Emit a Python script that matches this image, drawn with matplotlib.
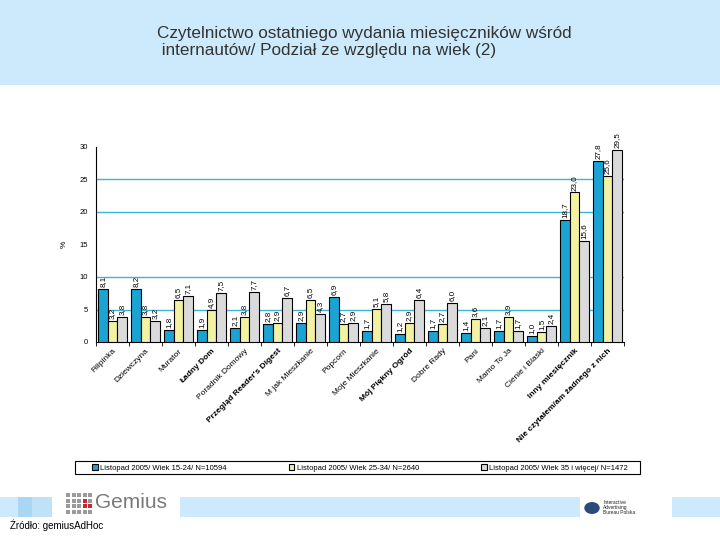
# Czytelnictwo miesiecznikow - podzial ze wzgledu na wiek (2)
import matplotlib
matplotlib.use("Agg")
import matplotlib.pyplot as plt
from matplotlib.patches import Rectangle, Circle
import numpy as np

plt.rcParams["font.family"] = ["Liberation Sans", "DejaVu Sans"]

# Data
categories = ["Filipinka", "Dziewczyna", "Murator", "Ładny Dom", "Poradnik Domowy",
              "Przegląd Reader's Digest", "M jak Mieszkanie", "Popcorn",
              "Moje Mieszkanie", "Mój Piękny Ogród", "Dobre Rady", "Pani",
              "Mamo To Ja", "Cienie i Blaski", "Inny miesięcznik",
              "Nie czytałem/am żadnego z nich"]
bold_labels = ["Ładny Dom", "Przegląd Reader's Digest", "Mój Piękny Ogród",
               "Inny miesięcznik", "Nie czytałem/am żadnego z nich"]
age_15_24 = [8.1, 8.2, 1.8, 1.9, 2.1, 2.8, 2.9, 6.9, 1.7, 1.2, 1.7, 1.4, 1.7, 1.0, 18.7, 27.8]
age_25_34 = [3.2, 3.8, 6.5, 4.9, 3.8, 2.9, 6.5, 2.7, 5.1, 2.9, 2.7, 3.6, 3.9, 1.5, 23.0, 25.6]
age_35_up = [3.8, 3.2, 7.1, 7.5, 7.7, 6.7, 4.3, 2.9, 5.8, 6.4, 6.0, 2.1, 1.7, 2.4, 15.6, 29.5]
series_names = ["Listopad 2005/ Wiek 15-24/ N=10594",
                "Listopad 2005/ Wiek 25-34/ N=2640",
                "Listopad 2005/ Wiek 35 i więcej/ N=1472"]
series_colors = ["#1ba3d4", "#f2f2a2", "#dadada"]

fig = plt.figure(figsize=(7.2, 5.4), dpi=100)

def px_rect(x0, y0, w, h, c, z=0, fill=True):
    # rectangle in pixel coords (origin top-left)
    r = Rectangle((x0 / 720, 1 - (y0 + h) / 540), w / 720, h / 540,
                  transform=fig.transFigure, zorder=z)
    if fill:
        r.set_facecolor(c)
        r.set_edgecolor("none")
    else:
        r.set_facecolor("none")
        r.set_edgecolor(c)
        r.set_linewidth(0.8)
    fig.patches.append(r)

# header and footer bands
px_rect(0, 0, 720, 85, "#cdeafc")
for x0, x1, c in [(0, 18, "#cdeafc"), (18, 32, "#a9d6f2"), (32, 52, "#bfe2f8"),
                  (180, 580, "#cdeafc"), (672, 720, "#cdeafc")]:
    px_rect(x0, 497, x1 - x0, 20, c)

fig.text(157 / 720, 1 - 42 / 540, "Czytelnictwo ostatniego wydania miesięczników wśród\n internautów/ Podział ze względu na wiek (2)",
         ha="left", va="center", fontsize=12.3, color="#333333", linespacing=1.2)

ax = fig.add_axes([96 / 720, 1 - 342 / 540, 528 / 720, 195 / 540])
x = np.arange(len(categories))
width = 0.29
offsets = [-0.29, 0.0, 0.29]
for vals, off, col, name in zip([age_15_24, age_25_34, age_35_up], offsets, series_colors, series_names):
    bars = ax.bar(x + off, vals, width, color=col, edgecolor="black", linewidth=0.8,
                  label=name, zorder=3)
    for b, v in zip(bars, vals):
        ax.text(b.get_x() + b.get_width() / 2, v + 0.3, f"{v:.1f}".replace(".", ","),
                rotation=90, ha="center", va="bottom", fontsize=5.8, zorder=4)

ax.set_xlim(-0.5, len(categories) - 0.5)
ax.set_ylim(0, 30)
ax.set_yticks([0, 5, 10, 15, 20, 25, 30])
ax.tick_params(axis="y", labelsize=5.5, length=0, pad=6)
for gy in [5, 10, 20, 25]:
    ax.axhline(gy, color="#3db4d4", linewidth=1, zorder=1)
ax.set_ylabel("%", fontsize=6, labelpad=8)

ax.set_xticks(x)
ax.set_xticklabels(categories, rotation=45, ha="right", rotation_mode="anchor", fontsize=6)
for lab in ax.get_xticklabels():
    if lab.get_text() in bold_labels:
        lab.set_fontweight("bold")
ax.tick_params(axis="x", length=0, pad=4)
ax.set_xticks(np.arange(len(categories) + 1) - 0.5, minor=True)
ax.tick_params(axis="x", which="minor", length=3, direction="out")

for s in ["top", "right"]:
    ax.spines[s].set_visible(False)
ax.spines["left"].set_linewidth(0.8)
ax.spines["bottom"].set_linewidth(0.8)

# legend: entries spread inside a box drawn separately
px_rect(75, 461, 565, 13, "black", z=1, fill=False)
leg = fig.legend(loc="lower left", bbox_to_anchor=(90 / 720, 1 - 474 / 540, 540 / 720, 13 / 540),
                 mode="expand", ncol=3, fontsize=5.5, frameon=False,
                 handlelength=0.7, handleheight=0.7, borderpad=0.3,
                 handletextpad=0.3, borderaxespad=0)

# footer: logos and source
for i in range(5):
    for j in range(4):
        c = "#c8282d" if (i, j) in [(3, 1), (3, 2), (4, 2)] else "#9a9a9a"
        px_rect(66 + i * 5.5, 493 + j * 5.5, 4, 4, c, z=1)
fig.text(95 / 720, 1 - 503 / 540, "Gemius", fontsize=15, color="#7a7a7a", va="center")
fig.text(10 / 720, 1 - 525 / 540, "Źródło: gemiusAdHoc", fontsize=7, va="center")
fig.patches.append(Circle((592 / 720, 1 - 508 / 540), 7 / 720, transform=fig.transFigure,
                          color="#2a4a7a", zorder=1))
fig.text(603 / 720, 1 - 507 / 540, "Interactive\nAdvertising\nBureau Polska", fontsize=3.5,
         color="#222222", va="center", linespacing=1.0)

plt.savefig("out.png", dpi=100)
